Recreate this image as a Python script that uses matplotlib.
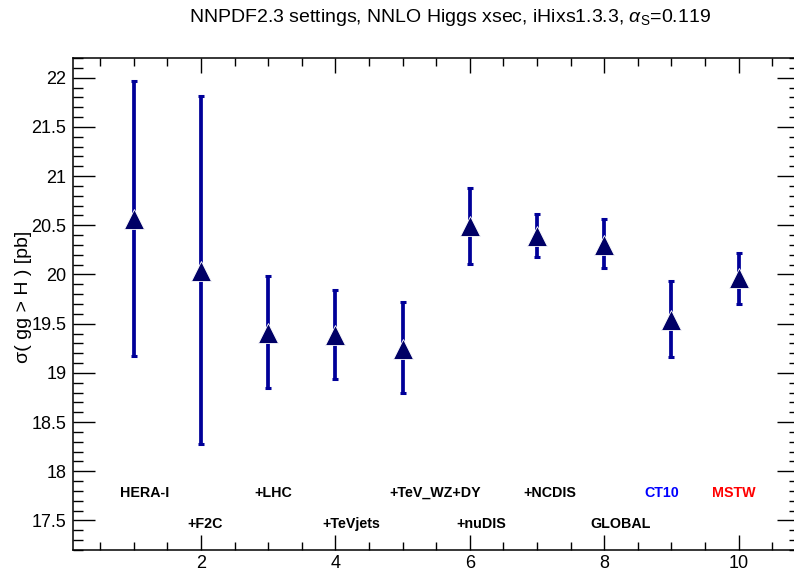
import numpy as np
import matplotlib
matplotlib.use("Agg")
import matplotlib.pyplot as plt
from matplotlib.ticker import MultipleLocator

plt.rcParams['font.family'] = ['Liberation Sans', 'DejaVu Sans']
plt.rcParams['mathtext.fontset'] = 'custom'
plt.rcParams['mathtext.rm'] = 'Liberation Sans'
plt.rcParams['mathtext.it'] = 'Liberation Sans:italic'

# data
fits = ["HERA-I", "+F2C", "+LHC", "+TeVjets", "+TeV_WZ+DY",
        "+nuDIS", "+NCDIS", "GLOBAL", "CT10", "MSTW"]
idx = np.arange(1, 11)
xsec = [20.56, 20.04, 19.41, 19.38, 19.24, 20.49, 20.39, 20.30, 19.54, 19.96]
upper = [21.97, 21.81, 19.98, 19.84, 19.72, 20.88, 20.61, 20.56, 19.93, 20.22]
lower = [19.17, 18.28, 18.85, 18.94, 18.80, 20.11, 20.18, 20.07, 19.16, 19.70]
label_colors = ["black"] * 8 + ["#0000ff", "#ff0000"]

xsec = np.array(xsec)
err = [xsec - np.array(lower), np.array(upper) - xsec]

W, H = 794, 571
fig = plt.figure(figsize=(W / 100, H / 100), dpi=100)
ax = fig.add_axes([73.3 / W, 21 / H, (799 - 73.3) / W, (550 - 58) / H])

ax.errorbar(idx, xsec, yerr=err, fmt='none', ecolor='#000099',
            elinewidth=2.7, capsize=2.0, capthick=2.2, zorder=2)
ax.plot(idx, xsec, ls='none', marker='^', ms=14.5, color='#000066',
        mec='white', mew=0.6, zorder=3)

# labels under the points, two rows alternating
for i, (name, c) in enumerate(zip(fits, label_colors)):
    xpos = idx[i] - (0.4 if i >= 8 else 0.2)
    ypos = 17.78 if i % 2 == 0 or i >= 8 else 17.46
    ax.text(xpos, ypos, name, color=c, fontsize=10.3, fontweight='bold',
            ha='left', va='center')

ax.set_xlim(0.1, 10.9)
ax.set_ylim(17.2, 22.2)
ax.xaxis.set_major_locator(MultipleLocator(2))
ax.xaxis.set_minor_locator(MultipleLocator(0.5))
ax.yaxis.set_major_locator(MultipleLocator(0.5))
ax.yaxis.set_minor_locator(MultipleLocator(0.1))
ax.yaxis.set_major_formatter(matplotlib.ticker.FuncFormatter(lambda v, p: ('%g' % v)))
ax.tick_params(which='both', direction='in', top=True, right=True, width=1)
ax.tick_params(axis='x', which='major', length=11, labelsize=13, pad=3.5)
ax.tick_params(axis='x', which='minor', length=5.5)
ax.tick_params(axis='y', which='major', length=16, labelsize=13, pad=5)
ax.tick_params(axis='y', which='minor', length=7.5)
for s in ax.spines.values():
    s.set_linewidth(1.1)

fig.text(24 / W, 1 - 297 / H, 'σ( gg > H ) [pb]', rotation=90,
         ha='center', va='center', fontsize=14)
fig.text(450 / W, 1 - 17 / H,
         r'NNPDF2.3 settings, NNLO Higgs xsec, iHixs1.3.3, $\alpha_{\mathrm{S}}$=0.119',
         ha='center', va='center', fontsize=14)

fig.savefig("out.png", dpi=100)
